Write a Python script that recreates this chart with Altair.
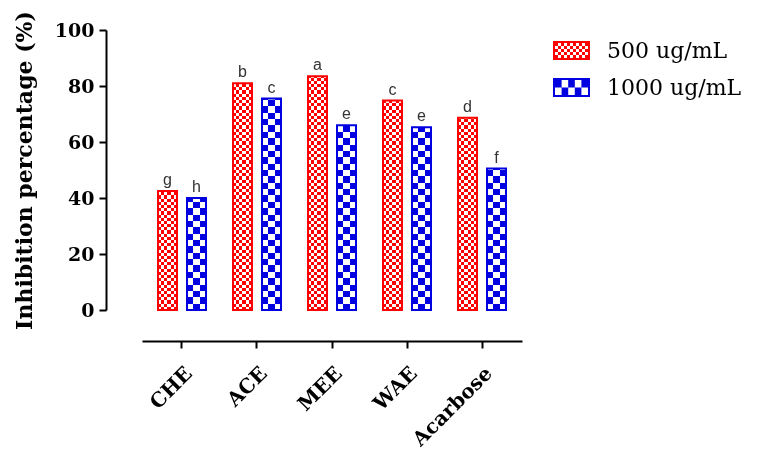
import altair as alt
import pandas as pd

categories = ["CHE", "ACE", "MEE", "WAE", "Acarbose"]
series = ["500 ug/mL", "1000 ug/mL"]
vals_500 = [42.5, 81.0, 83.5, 74.8, 68.7]
vals_1000 = [40.0, 75.5, 66.0, 65.3, 50.5]
letters_500 = ["g", "b", "a", "c", "d"]
letters_1000 = ["h", "c", "e", "e", "f"]
y_ticks = [0, 20, 40, 60, 80, 100]

rows = []
for c, v, l in zip(categories, vals_500, letters_500):
    rows.append({"category": c, "series": series[0], "value": v, "letter": l})
for c, v, l in zip(categories, vals_1000, letters_1000):
    rows.append({"category": c, "series": series[1], "value": v, "letter": l})
df = pd.DataFrame(rows)

RED = "#ff0000"
BLUE = "#0000e0"
SERIF = "DejaVu Serif"


def stripes(n, vertical):
    stops = []
    for i in range(n):
        col = "black" if i % 2 == 0 else "white"
        stops.append({"offset": i / n, "color": col})
        stops.append({"offset": (i + 1) / n, "color": col})
    if vertical:  # stripes stacked top to bottom
        return {"gradient": "linear", "x1": 0, "y1": 0, "x2": 0, "y2": 1, "stops": stops}
    return {"gradient": "linear", "x1": 0, "y1": 0, "x2": 1, "y2": 0, "stops": stops}


def checker_path(ncols, nrows, w=37.0, h=19.0, border=2.0):
    r = w / 2.0
    hh = (h / 2.0) / r
    b = border / r
    f = lambda v: f"{v:.3f}"
    p = f"M-1,{f(-hh)}H1V{f(hh)}H-1Z"
    p += f"M{f(-1 + b)},{f(-hh + b)}V{f(hh - b)}H{f(1 - b)}V{f(-hh + b)}Z"
    iw = 2 - 2 * b
    ih = 2 * hh - 2 * b
    cw = iw / ncols
    ch = ih / nrows
    for i in range(ncols):
        for j in range(nrows):
            if (i + j) % 2 == 0:
                x0 = -1 + b + i * cw
                y0 = -hh + b + j * ch
                p += f"M{f(x0)},{f(y0)}h{f(cw)}v{f(ch)}h{f(-cw)}Z"
    return p


is500 = alt.datum.series == series[0]

xaxis = alt.Axis(
    offset=31, domainColor="black", domainWidth=2, tickColor="black", tickWidth=2,
    tickSize=7, labelAngle=-45, labelFont=SERIF, labelFontWeight="bold",
    labelFontSize=20, labelColor="black", labelPadding=15, title=None, grid=False,
)
yaxis = alt.Axis(
    values=y_ticks, offset=36, domainColor="black", domainWidth=2, tickColor="black",
    tickWidth=2, tickSize=7, labelFont=SERIF, labelFontWeight="bold", labelFontSize=19,
    labelColor="black", labelPadding=5, title="Inhibition percentage (%)",
    titleFont=SERIF, titleFontWeight="bold", titleFontSize=22, titleColor="black",
    titlePadding=18, grid=False,
)

X = alt.X("category:N", sort=categories, axis=xaxis,
          scale=alt.Scale(paddingInner=0, paddingOuter=0.0333))
XO = alt.XOffset("series:N", sort=series,
                 scale=alt.Scale(paddingInner=0.345, paddingOuter=0.4655))
yscale = alt.Scale(domain=[0, 100], nice=False)
Yv = alt.Y("value:Q", scale=yscale, axis=yaxis)
Yfull = alt.Y(datum=100, type="quantitative", scale=yscale, axis=yaxis)

base = alt.Chart(df)

fill_scale = alt.Scale(domain=series, range=[RED, BLUE])
leg = alt.Legend(
    title=None, orient="none", legendX=411, legendY=2, symbolSize=1369,
    symbolStrokeWidth=0, labelFont=SERIF, labelFontSize=22, labelColor="black",
    labelOffset=17, rowPadding=7, padding=0,
)
# legend carrier (drawn first, hidden beneath the bars)
l_legend = base.mark_point(filled=True, opacity=1, size=4).encode(
    x=X, xOffset=XO, y=Yv,
    fill=alt.Fill("series:N", scale=fill_scale, legend=leg),
    shape=alt.Shape("series:N", scale=alt.Scale(domain=series, range=[checker_path(11, 5), checker_path(5, 2)]), legend=leg),
)
# horizontal stripes (full height)
l_h = base.mark_bar().encode(
    x=X, xOffset=XO, y=Yfull, y2=alt.datum(0),
    fill=alt.condition(is500, alt.value(stripes(88, True)), alt.value(stripes(44, True))),
)
# vertical stripes, difference -> checker
l_v = base.mark_bar(blend="difference").encode(
    x=X, xOffset=XO, y=Yv,
    fill=alt.condition(is500, alt.value(stripes(6, False)), alt.value(stripes(3, False))),
)
# cover above the bar
l_cover = base.mark_bar(fill="white").encode(
    x=X, xOffset=XO, y=Yv, y2=alt.datum(100),
)
l_color = base.mark_bar(blend="screen").encode(
    x=X, xOffset=XO, y=Yv,
    fill=alt.Fill("series:N", scale=fill_scale, legend=leg),
)
l_outline = base.mark_bar(fillOpacity=0, strokeWidth=2).encode(
    x=X, xOffset=XO, y=Yv,
    stroke=alt.Stroke("series:N", scale=alt.Scale(domain=series, range=[RED, BLUE]), legend=None),
)
l_text = base.mark_text(dy=-11, font="Liberation Sans", fontSize=16, color="#333333").encode(
    x=X, xOffset=XO, y=Yv, text="letter:N",
)

chart = alt.layer(l_legend, l_h, l_v, l_cover, l_color, l_outline, l_text).properties(
    width=380, height=280,
    autosize=alt.AutoSizeParams(type="none"),
    padding={"left": 134, "top": 22, "right": 230, "bottom": 140},
    background="white",
).configure_view(stroke=None)

chart.save("out.html", embed_options={"renderer": "svg", "actions": False})
